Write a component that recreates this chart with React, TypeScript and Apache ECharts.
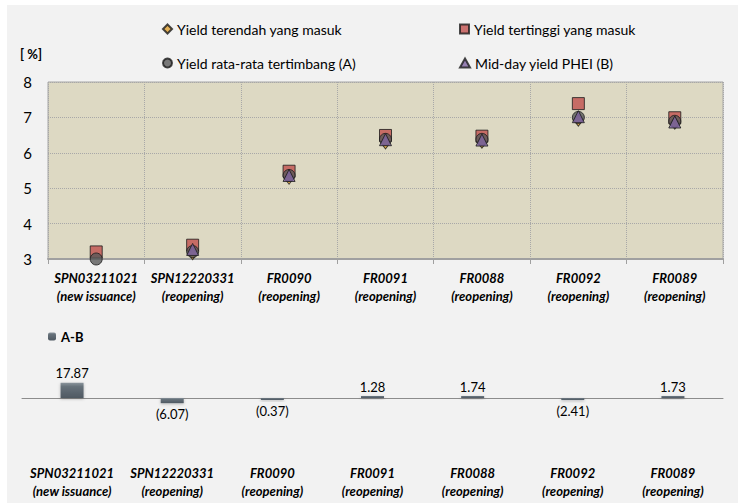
import React, { useEffect, useRef } from 'react';
import * as echarts from 'echarts';

const categories = ['SPN03211021', 'SPN12220331', 'FR0090', 'FR0091', 'FR0088', 'FR0092', 'FR0089'];
const issueTypes = ['(new issuance)', '(reopening)', '(reopening)', '(reopening)', '(reopening)', '(reopening)', '(reopening)'];

const minYield = [2.97, 3.15, 5.28, 6.28, 6.3, 6.92, 6.84];
const maxYield = [3.2, 3.39, 5.48, 6.49, 6.47, 7.39, 6.99];
const avgYield = [3.0, 3.21, 5.36, 6.38, 6.38, 7.0, 6.89];
const pheiYield = [2.82, 3.27, 5.36, 6.37, 6.36, 7.02, 6.87];
const diffAB = [17.87, -6.07, -0.37, 1.28, 1.74, -2.41, 1.73];

const yTicksMin = 3;
const yTicksMax = 8;

const FONT = 'Lato, "Open Sans", sans-serif';

const nameMin = 'Yield terendah yang masuk';
const nameMax = 'Yield tertinggi yang masuk';
const nameAvg = 'Yield rata-rata tertimbang (A)';
const namePhei = 'Mid-day yield PHEI (B)';
const nameDiff = 'A-B';

function fmtDiff(v: number) {
  return v < 0 ? `(${Math.abs(v).toFixed(2)})` : v.toFixed(2);
}

export default function App() {
  const ref = useRef<HTMLDivElement>(null);
  useEffect(() => {
    const chart = echarts.init(ref.current!, null, { renderer: 'svg' });
    const legendText = { fontFamily: FONT, fontSize: 14, color: '#000' };
    const markerBorder = { borderColor: '#1a1a1a', borderWidth: 1 };
    const catLabel = {
      fontFamily: FONT,
      fontSize: 13,
      fontWeight: 'bold' as const,
      fontStyle: 'italic' as const,
      color: '#000',
      lineHeight: 18,
      interval: 0,
      formatter: (v: string, i: number) => `${v}\n${issueTypes[i]}`,
    };
    chart.setOption({
      animation: false,
      backgroundColor: 'transparent',
      textStyle: { fontFamily: FONT },
      graphic: [
        {
          type: 'text',
          left: 20,
          top: 47,
          style: { text: '[ %]', font: `bold 13px ${FONT}`, fill: '#000' },
        },
      ],
      legend: [
        { data: [nameMin], left: 162, top: 22, padding: 0, itemWidth: 9, itemHeight: 9, itemGap: 4, textStyle: legendText },
        { data: [nameMax], left: 459, top: 22, padding: 0, itemWidth: 9, itemHeight: 9, itemGap: 4, textStyle: legendText },
        { data: [nameAvg], left: 162, top: 56, padding: 0, itemWidth: 9, itemHeight: 9, itemGap: 4, textStyle: legendText },
        { data: [namePhei], left: 459, top: 56, padding: 0, itemWidth: 10, itemHeight: 9, itemGap: 4, textStyle: legendText },
        {
          data: [nameDiff],
          left: 48,
          top: 330,
          padding: 0,
          itemWidth: 8,
          itemHeight: 8,
          itemGap: 3,
          textStyle: { ...legendText, fontWeight: 'bold', fontSize: 13 },
        },
      ],
      grid: [
        {
          left: 48,
          top: 82,
          width: 675,
          height: 177,
          show: true,
          backgroundColor: '#ddd9c3',
          borderColor: '#a6a6a6',
          borderWidth: 1,
        },
        { left: 22, top: 381, width: 701, height: 34 },
      ],
      xAxis: [
        {
          type: 'category',
          gridIndex: 0,
          data: categories,
          axisLine: { lineStyle: { color: '#a0a0a0', width: 2 } },
          axisTick: { show: true, length: 5, interval: 0, lineStyle: { color: '#a0a0a0' } },
          splitLine: { show: true, interval: 0, lineStyle: { color: '#a8a8a8', type: 'dotted' } },
          axisLabel: { ...catLabel, margin: 10 },
        },
        {
          type: 'category',
          gridIndex: 1,
          data: categories,
          axisLine: { onZero: true, lineStyle: { color: '#8c8c8c', width: 1 } },
          axisTick: { show: false },
          axisLabel: { show: false },
        },
        {
          type: 'category',
          gridIndex: 1,
          data: categories,
          position: 'bottom',
          axisLine: { show: false, onZero: false },
          axisTick: { show: false },
          axisLabel: { ...catLabel, margin: 49 },
        },
      ],
      yAxis: [
        {
          type: 'value',
          gridIndex: 0,
          min: yTicksMin,
          max: yTicksMax,
          interval: 1,
          axisLine: { show: false },
          axisTick: { show: false },
          axisLabel: { fontFamily: FONT, fontSize: 15, color: '#000', margin: 16 },
          splitLine: { show: true, lineStyle: { color: '#a8a8a8', type: 'dotted' } },
        },
        {
          type: 'value',
          gridIndex: 1,
          min: -20,
          max: 20,
          show: false,
          splitLine: { show: false },
        },
      ],
      series: [
        {
          name: nameMax,
          type: 'scatter',
          xAxisIndex: 0,
          yAxisIndex: 0,
          data: maxYield,
          symbol: 'rect',
          symbolSize: 12,
          clip: true,
          z: 2,
          itemStyle: { color: '#c0504d', ...markerBorder },
        },
        {
          name: nameMin,
          type: 'scatter',
          xAxisIndex: 0,
          yAxisIndex: 0,
          data: minYield,
          symbol: 'diamond',
          symbolSize: [9, 12],
          clip: true,
          z: 3,
          itemStyle: { color: '#e0a030', ...markerBorder },
        },
        {
          name: nameAvg,
          type: 'scatter',
          xAxisIndex: 0,
          yAxisIndex: 0,
          data: avgYield,
          symbol: 'circle',
          symbolSize: 12,
          clip: true,
          z: 4,
          itemStyle: { color: '#595959', ...markerBorder },
        },
        {
          name: namePhei,
          type: 'scatter',
          xAxisIndex: 0,
          yAxisIndex: 0,
          data: pheiYield,
          symbol: 'triangle',
          symbolSize: 12,
          clip: true,
          z: 5,
          itemStyle: { color: '#8064a2', ...markerBorder },
        },
        {
          name: nameDiff,
          type: 'bar',
          xAxisIndex: 1,
          yAxisIndex: 1,
          data: diffAB.map((v) => ({
            value: v,
            label: { position: v < 0 ? 'bottom' : 'top', distance: v < 0 ? 4 : 3 },
          })),
          barWidth: 23,
          barMinHeight: 2,
          itemStyle: {
            color: new echarts.graphic.LinearGradient(0, 0, 0, 1, [
              { offset: 0, color: '#8a949c' },
              { offset: 0.25, color: '#66717a' },
              { offset: 1, color: '#4f5962' },
            ]),
            shadowBlur: 3,
            shadowColor: 'rgba(0,0,0,0.25)',
            shadowOffsetY: 1,
          },
          label: {
            show: true,
            fontFamily: FONT,
            fontSize: 13,
            color: '#000',
            formatter: (p: any) => fmtDiff(p.value),
          },
        },
      ],
    });
    return () => chart.dispose();
  }, []);
  return (
    <div style={{ position: 'absolute', left: 0, top: 0, width: 749, height: 503, background: '#fff' }}>
      <div style={{ position: 'absolute', left: 7, top: 5, width: 731, height: 498, background: '#f2f2f2' }} />
      <div ref={ref} style={{ position: 'absolute', left: 0, top: 0, width: 749, height: 503 }} />
    </div>
  );
}
